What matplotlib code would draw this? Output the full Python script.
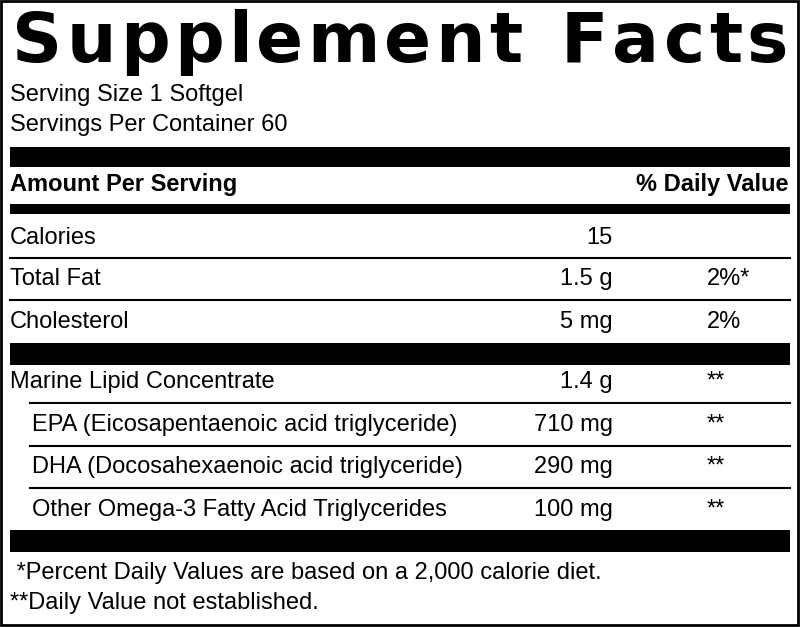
import matplotlib.pyplot as plt

# rows of the facts panel
row_names = ["Calories", "Total Fat", "Cholesterol", "Marine Lipid Concentrate",
             "EPA (Eicosapentaenoic acid triglyceride)",
             "DHA (Docosahexaenoic acid triglyceride)",
             "Other Omega-3 Fatty Acid Triglycerides"]
row_amounts = ["15", "1.5 g", "5 mg", "1.4 g", "710 mg", "290 mg", "100 mg"]
row_dv = ["", "2%*", "2%", "**", "**", "**", "**"]
row_indent = [False, False, False, False, True, True, True]
row_y = [238, 279, 322, 382, 425, 467, 510]

serving_lines = ["Serving Size 1 Softgel", "Servings Per Container 60"]
footnotes = [" *Percent Daily Values are based on a 2,000 calorie diet.",
             "**Daily Value not established."]
title = "Supplement Facts"

fam = ["Liberation Sans Narrow", "Liberation Sans", "DejaVu Sans"]
fs = 17

fig = plt.figure(figsize=(8, 6.27), dpi=100)
ax = fig.add_axes([0, 0, 1, 1])
ax.set_xlim(0, 800)
ax.set_ylim(627, 0)
ax.axis("off")

# outer frame
ax.add_patch(plt.Rectangle((1, 1), 797, 624, fill=False, lw=2, ec="black"))

# title with wide letter spacing, spread across 12..788
renderer = fig.canvas.get_renderer()
chars = []
widths = []
for c in title:
    t = ax.text(0, 62, c if c != " " else "n", fontsize=50, fontweight="black",
                family="DejaVu Sans", va="baseline", ha="left")
    w = t.get_window_extent(renderer).width
    if c == " ":
        t.remove()
        w *= 0.6
        t = None
    chars.append(t)
    widths.append(w)
gap = (776 - sum(widths)) / (len(title) - 1)
x = 12
for t, w in zip(chars, widths):
    if t is not None:
        t.set_x(x)
    x += w + gap

for i, s in enumerate(serving_lines):
    ax.text(10, 95 + 30 * i, s, fontsize=fs, family=fam, va="center")

def bar(y0, y1, x0=10):
    ax.add_patch(plt.Rectangle((x0, y0), 790 - x0, y1 - y0, color="black", lw=0))

bar(147, 167)
ax.text(10, 185, "Amount Per Serving", fontsize=fs, family=fam, fontweight="bold", va="center")
ax.text(788, 185, "% Daily Value", fontsize=fs, family=fam, fontweight="bold", va="center", ha="right")
bar(204, 214)
bar(343, 365)
bar(530, 552)

for y in [258, 300]:
    ax.plot([10, 790], [y, y], color="black", lw=1.5)
for y in [403, 446, 488]:
    ax.plot([30, 790], [y, y], color="black", lw=1.5)

for name, amt, dv, ind, y in zip(row_names, row_amounts, row_dv, row_indent, row_y):
    ax.text(32 if ind else 10, y, name, fontsize=fs, family=fam, va="center")
    ax.text(613, y, amt, fontsize=fs, family=fam, va="center", ha="right")
    ax.text(707, y, dv, fontsize=fs, family=fam, va="center")

for i, s in enumerate(footnotes):
    ax.text(10, 573 + 30 * i, s, fontsize=fs, family=fam, va="center")

fig.savefig("out.png", dpi=100)
